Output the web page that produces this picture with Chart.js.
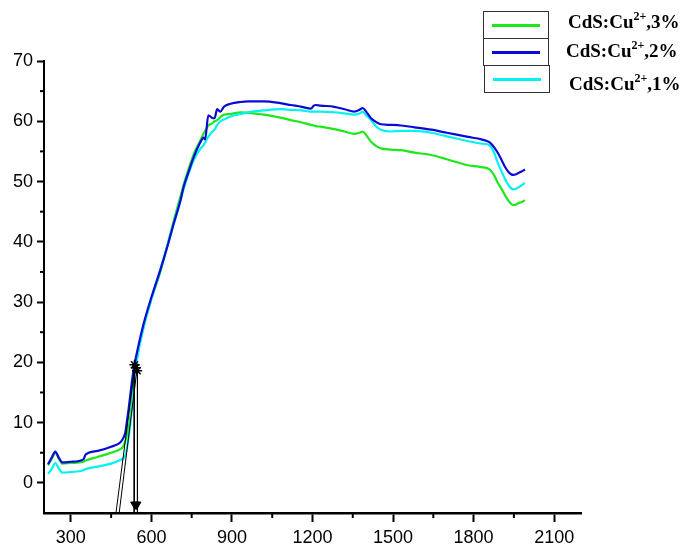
<!DOCTYPE html>
<html>
<head>
<meta charset="utf-8">
<script src="https://cdn.jsdelivr.net/npm/chart.js@4/dist/chart.umd.min.js"></script>
<style>
  html, body { margin: 0; padding: 0; background: #fff; }
  #wrap { position: relative; width: 683px; height: 546px; }
  #c { position: absolute; left: 0; top: 0; }
  .lg-box { position: absolute; width: 64px; height: 26px; border: 1px solid #333; background: #fff; }
  .lg-line { position: absolute; left: 8px; top: 12px; width: 48px; height: 3px; }
  .lg-text { position: absolute; font-family: 'Liberation Serif', 'Times New Roman', serif; font-weight: bold; font-size: 19px; color: #000; white-space: nowrap; line-height: 1; }
  .lg-text sup { font-size: 12px; vertical-align: 0; position: relative; top: -8px; }
</style>
</head>
<body>
<div id="wrap">
  <canvas id="c" width="683" height="546"></canvas>
  <div id="legend"></div>
</div>
<script>
// ---------- data ----------
const wavelength = [215,230,242,255,268,300,347,355,400,450,
  484,496,503,509,515,522,528,534,540,546,
  571,600,633,660,683,708,720,740,758,780,
  795,800,812,825,835,845,857,870,895,932,
  960,1019,1080,1119,1160,1194,1205,1212,1230,1281,
  1320,1356,1375,1387,1400,1418,1440,1455,1490,1530,
  1580,1642,1700,1779,1829,1860,1878,1891,1905,1916,
  1930,1947,1958,1966,1980,1991];

const cu3 = [2.9,4.1,5.0,4.0,3.2,3.3,3.5,3.7,4.3,5.0,
  5.6,6.1,7.0,8.0,9.2,11.3,13.9,16.4,18.8,20.8,
  26.0,30.5,35.0,39.5,43.5,47.5,49.5,52.3,54.6,56.6,
  58.0,58.4,59.3,59.6,60.0,60.2,60.7,61.1,61.2,61.5,
  61.4,61.1,60.6,60.2,59.8,59.4,59.3,59.2,59.1,58.7,
  58.3,57.9,58.1,58.3,57.7,56.6,55.8,55.5,55.3,55.2,
  54.8,54.4,53.7,52.7,52.4,52.0,50.9,49.7,48.7,47.8,
  46.8,46.1,46.2,46.4,46.6,46.9];

const cu2 = [3.1,4.3,5.2,4.2,3.4,3.5,3.9,4.7,5.3,6.0,
  6.7,7.5,8.4,10.3,12.2,14.8,17.0,18.8,20.3,21.6,
  26.4,30.8,35.3,39.3,43.0,46.8,49.1,51.8,54.1,56.3,
  57.3,57.0,61.0,60.6,60.5,62.0,61.6,62.4,62.9,63.2,
  63.3,63.3,63.0,62.7,62.4,62.1,62.6,62.7,62.6,62.4,
  62.0,61.6,61.9,62.2,61.6,60.5,59.8,59.5,59.4,59.3,
  59.0,58.6,58.1,57.4,57.0,56.5,55.6,54.7,53.5,52.5,
  51.6,51.1,51.2,51.4,51.7,52.0];

const cu1 = [1.5,2.4,3.3,2.4,1.7,1.8,2.1,2.3,2.7,3.2,
  3.8,4.1,4.6,5.8,7.5,10.0,12.6,15.3,18.0,20.3,
  25.8,30.5,35.3,39.4,43.0,46.8,48.8,51.5,53.6,55.3,
  56.1,56.5,57.4,58.2,58.6,59.4,60.0,60.3,60.8,61.2,
  61.5,61.8,62.0,61.9,61.8,61.6,61.6,61.6,61.6,61.5,
  61.3,61.1,61.3,61.6,61.0,60.2,59.0,58.6,58.3,58.4,
  58.4,58.1,57.5,56.7,56.3,56.0,54.6,53.0,51.6,50.5,
  49.4,48.7,48.8,49.0,49.4,49.8];

const seriesNames = ['CdS:Cu2+,3%', 'CdS:Cu2+,2%', 'CdS:Cu2+,1%'];
const seriesColors = ['#1de81d', '#0a0ad8', '#00f2f2'];

// band-gap tangent construction (data units)
const tangentAx = [468, 540], tangentAy = [-5, 19.8];
const tangentBx = [480, 549], tangentBy = [-5, 19.8];
const arrowAx = [536, 536], arrowAy = [19.6, -5];
const arrowBx = [548, 548], arrowBy = [19.0, -5];
const starX = [537, 542, 547], starY = [19.6, 19.1, 18.6];
const headX = [539, 545], headY = [-3.6, -3.6];

const xTicks = [300, 600, 900, 1200, 1500, 1800, 2100];
const xMinor = [450, 750, 1050, 1350, 1650, 1950];
const yTicks = [0, 10, 20, 30, 40, 50, 60, 70];
const yMinor = [5, 15, 25, 35, 45, 55, 65];

// ---------- build ----------
const pts = (xs, ys) => xs.map((x, i) => ({ x: x, y: ys[i] }));
const seriesData = [cu3, cu2, cu1];
const drawOrder = [3, 1, 2]; // blue on top, then cyan, then green

const datasets = seriesData.map((arr, i) => ({
  label: seriesNames[i],
  data: pts(wavelength, arr),
  showLine: true,
  borderColor: seriesColors[i],
  backgroundColor: seriesColors[i],
  borderWidth: 2.2,
  pointRadius: 0,
  cubicInterpolationMode: 'monotone',
  order: drawOrder[i]
}));

const annLine = (xs, ys) => ({
  label: '', data: pts(xs, ys), showLine: true, borderColor: '#000',
  borderWidth: 1, pointRadius: 0, order: 0, clip: false
});
datasets.push(annLine(tangentAx, tangentAy));
datasets.push(annLine(tangentBx, tangentBy));
datasets.push(annLine(arrowAx, arrowAy));
datasets.push(annLine(arrowBx, arrowBy));
datasets.push({ label: '', data: pts(starX, starY), showLine: false, pointStyle: 'star',
  pointRadius: 5, borderColor: '#000', borderWidth: 1.5, order: 0, clip: false });
datasets.push({ label: '', data: pts(headX, headY), showLine: false, pointStyle: 'triangle',
  rotation: 180, pointRadius: 5, borderColor: '#000', backgroundColor: '#000', borderWidth: 1, order: 0, clip: false });

const minorTicks = {
  id: 'minorTicks',
  afterDraw(chart) {
    const ctx = chart.ctx, xs = chart.scales.x, ys = chart.scales.y;
    ctx.save();
    ctx.strokeStyle = '#000';
    ctx.lineWidth = 2;
    xMinor.forEach(v => {
      const px = xs.getPixelForValue(v);
      ctx.beginPath(); ctx.moveTo(px, xs.top); ctx.lineTo(px, xs.top + 5); ctx.stroke();
    });
    yMinor.forEach(v => {
      const py = ys.getPixelForValue(v);
      ctx.beginPath(); ctx.moveTo(ys.right, py); ctx.lineTo(ys.right - 4, py); ctx.stroke();
    });
    ctx.restore();
  }
};

const tickFont = { family: "'Liberation Sans', Arial, sans-serif", size: 18 };

const chart = new Chart(document.getElementById('c'), {
  type: 'scatter',
  data: { datasets: datasets },
  options: {
    responsive: false,
    animation: false,
    layout: { padding: { top: 61, right: 102, left: 0, bottom: 0 } },
    plugins: { legend: { display: false }, tooltip: { enabled: false } },
    scales: {
      x: {
        type: 'linear', position: 'bottom', min: 200, max: 2200,
        border: { display: true, color: '#000', width: 2.5 },
        grid: { drawOnChartArea: false, drawTicks: true, tickLength: 9, tickColor: '#000', tickWidth: 2 },
        ticks: { font: tickFont, color: '#000', padding: 5, maxRotation: 0, autoSkip: false,
                 callback: v => String(v) },
        afterBuildTicks: s => { s.ticks = xTicks.map(v => ({ value: v })); },
        afterFit: s => { s.height = 33; }
      },
      y: {
        type: 'linear', position: 'left', min: -5, max: 70,
        border: { display: true, color: '#000', width: 2 },
        grid: { drawOnChartArea: false, drawTicks: true, tickLength: 7, tickColor: '#000', tickWidth: 2 },
        ticks: { font: tickFont, color: '#000', padding: 4, callback: v => String(v) },
        afterBuildTicks: s => { s.ticks = yTicks.map(v => ({ value: v })); },
        afterFit: s => { s.width = 44; }
      }
    }
  },
  plugins: [minorTicks]
});

// ---------- HTML legend (superscripts as real text) ----------
const legendOrder = [0, 1, 2];
const boxPos = [{ l: 483, t: 11 }, { l: 483, t: 38 }, { l: 484, t: 65 }];
const textPos = [{ l: 568, t: 12 }, { l: 566, t: 41 }, { l: 569, t: 74 }];
const lg = document.getElementById('legend');
legendOrder.forEach((i, k) => {
  const box = document.createElement('div');
  box.className = 'lg-box';
  box.style.left = boxPos[k].l + 'px';
  box.style.top = boxPos[k].t + 'px';
  const ln = document.createElement('div');
  ln.className = 'lg-line';
  ln.style.background = seriesColors[i];
  box.appendChild(ln);
  lg.appendChild(box);
  const tx = document.createElement('div');
  tx.className = 'lg-text';
  tx.style.left = textPos[k].l + 'px';
  tx.style.top = textPos[k].t + 'px';
  tx.innerHTML = seriesNames[i].replace('Cu2+', 'Cu<sup>2+</sup>');
  lg.appendChild(tx);
});
</script>
</body>
</html>
